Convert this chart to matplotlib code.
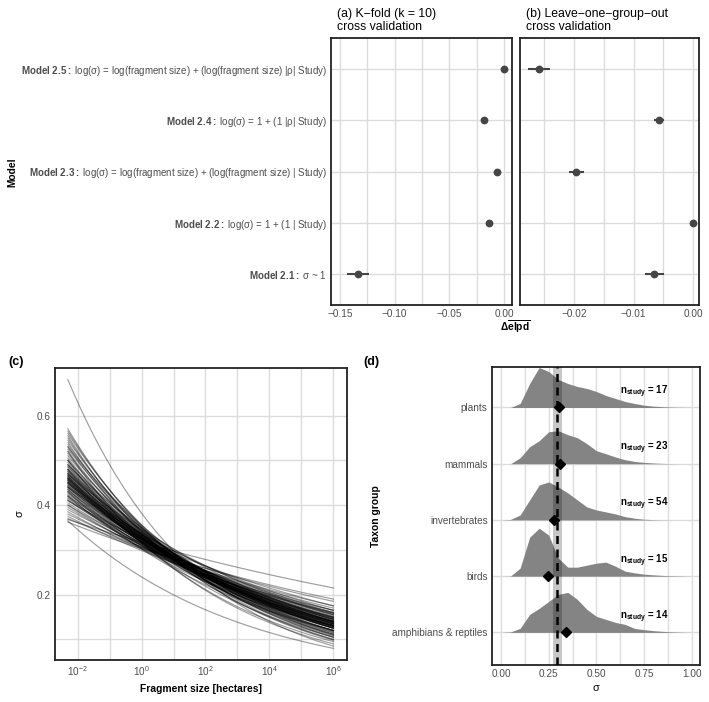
import numpy as np
import matplotlib
matplotlib.use('Agg')
import matplotlib.pyplot as plt
from matplotlib.ticker import FixedLocator, NullFormatter, FixedFormatter

plt.rcParams['font.family'] = ['Liberation Sans', 'DejaVu Sans']
plt.rcParams['mathtext.fontset'] = 'custom'
plt.rcParams['mathtext.rm'] = 'Liberation Sans'
plt.rcParams['mathtext.it'] = 'Liberation Sans:italic'
plt.rcParams['mathtext.bf'] = 'Liberation Sans:bold'

# ---------------- data ----------------
model_names = ['Model 2.1:', 'Model 2.2:', 'Model 2.3:', 'Model 2.4:', 'Model 2.5:']
model_formulas = ['σ ~ 1',
                  'log(σ) = 1 + (1 | Study)',
                  'log(σ) = log(fragment size) + (log(fragment size) | Study)',
                  'log(σ) = 1 + (1 |ρ| Study)',
                  'log(σ) = log(fragment size) + (log(fragment size) |ρ| Study)']
kfold_elpd = [-0.1335, -0.0137, -0.0060, -0.0180, 0.0000]
kfold_lo = [-0.1436, -0.0152, -0.0072, -0.0193, -0.0008]
kfold_hi = [-0.1235, -0.0122, -0.0048, -0.0167, 0.0008]
logo_elpd = [-0.0065, 0.0000, -0.0196, -0.0057, -0.0259]
logo_lo = [-0.0081, -0.0002, -0.0208, -0.0065, -0.0277]
logo_hi = [-0.0049, 0.0002, -0.0183, -0.0049, -0.0241]

# panel (c): posterior draws, sigma at smallest (0.005 ha) and largest (1e6 ha) fragment
frag_min, frag_max = 0.005, 1e6
sigma_small = [0.68, 0.57, 0.565, 0.56, 0.555, 0.55, 0.545, 0.54, 0.535, 0.53, 0.525, 0.52,
               0.515, 0.51, 0.505, 0.50, 0.50, 0.495, 0.49, 0.49, 0.485, 0.48, 0.48, 0.475,
               0.47, 0.47, 0.468, 0.465, 0.462, 0.46, 0.46, 0.458, 0.455, 0.452, 0.45, 0.45,
               0.448, 0.445, 0.442, 0.44, 0.44, 0.438, 0.435, 0.432, 0.43, 0.428, 0.425, 0.422,
               0.42, 0.418, 0.415, 0.412, 0.41, 0.405, 0.40, 0.40, 0.395, 0.39, 0.385, 0.38,
               0.375, 0.37, 0.368, 0.365, 0.362, 0.50, 0.52, 0.47, 0.44, 0.48, 0.43, 0.46,
               0.45, 0.53, 0.49, 0.42, 0.41, 0.455, 0.475, 0.465, 0.435,
               0.472, 0.458, 0.466, 0.444, 0.486, 0.452, 0.478, 0.462, 0.448, 0.456]
sigma_large = [0.085, 0.10, 0.105, 0.11, 0.098, 0.105, 0.112, 0.10, 0.115, 0.108, 0.12, 0.11,
               0.118, 0.125, 0.112, 0.12, 0.13, 0.115, 0.125, 0.135, 0.12, 0.13, 0.14, 0.125,
               0.135, 0.128, 0.14, 0.132, 0.145, 0.13, 0.138, 0.142, 0.135, 0.148, 0.14, 0.13,
               0.145, 0.138, 0.15, 0.142, 0.135, 0.148, 0.14, 0.155, 0.145, 0.138, 0.15, 0.145,
               0.158, 0.14, 0.152, 0.148, 0.16, 0.155, 0.15, 0.165, 0.158, 0.17, 0.16, 0.175,
               0.165, 0.185, 0.215, 0.08, 0.19, 0.095, 0.09, 0.155, 0.165, 0.105, 0.12, 0.12,
               0.16, 0.125, 0.145, 0.13, 0.175, 0.125, 0.14, 0.118, 0.128,
               0.132, 0.136, 0.128, 0.14, 0.126, 0.134, 0.13, 0.133, 0.137, 0.131]

# panel (d): posterior densities of sigma per taxon group
taxa = ['amphibians & reptiles', 'birds', 'invertebrates', 'mammals', 'plants']
n_study = [14, 15, 54, 23, 17]
sigma_grid = np.round(np.arange(0, 1.0001, 0.05), 3)
dens_amphibians = [0, 0.05, 0.4, 1.8, 2.4, 3.1, 3.8, 4.0, 3.3, 2.3, 1.6, 1.3, 1.0, 0.8, 0.4, 0.27, 0.17, 0.1, 0.05, 0.02, 0]
dens_birds = [0, 0.02, 0.8, 3.9, 4.8, 4.1, 1.8, 0.9, 0.9, 1.1, 1.3, 1.4, 1.0, 0.5, 0.33, 0.2, 0.13, 0.07, 0.04, 0.02, 0]
dens_invertebrates = [0, 0.05, 0.5, 2.0, 3.5, 3.8, 3.3, 2.7, 2.0, 1.3, 1.0, 0.8, 0.6, 0.33, 0.17, 0.07, 0.03, 0.01, 0, 0, 0]
dens_mammals = [0, 0, 0.6, 1.7, 2.3, 3.2, 3.3, 2.9, 2.6, 2.0, 1.3, 1.0, 0.67, 0.4, 0.23, 0.13, 0.07, 0.03, 0.01, 0, 0]
dens_plants = [0, 0.0, 0.4, 2.4, 4.0, 3.6, 2.8, 2.4, 2.1, 1.9, 1.6, 1.2, 0.9, 0.6, 0.4, 0.23, 0.13, 0.07, 0.03, 0.01, 0]
taxon_means = [0.34, 0.248, 0.275, 0.311, 0.304]
overall_mean = 0.294
overall_lo, overall_hi = 0.271, 0.318

# ---------------- layout ----------------
W, H = 709, 702
fig = plt.figure(figsize=(W / 100, H / 100), dpi=100)

def box(l, t, r, b):
    return [l / W, 1 - b / H, (r - l) / W, (b - t) / H]

GRID = '#dcdcdc'
TICKC = '#4d4d4d'
TFS = 7.2

def style(ax):
    for s in ax.spines.values():
        s.set_linewidth(1.3)
        s.set_color('#222222')
    ax.tick_params(which='both', length=0, labelsize=TFS, labelcolor=TICKC, pad=3)
    ax.grid(True, which='both', color=GRID, lw=1.0)
    ax.set_axisbelow(True)

ypos = np.arange(1, 6)

# (a)
axa = fig.add_axes(box(331, 38, 512, 305))
style(axa)
axa.set_xlim(-0.158, 0.0073)
axa.set_ylim(0.4, 5.6)
axa.xaxis.set_major_locator(FixedLocator([-0.15, -0.10, -0.05, 0.0]))
axa.xaxis.set_minor_locator(FixedLocator([-0.125, -0.075, -0.025]))
axa.xaxis.set_minor_formatter(NullFormatter())
axa.set_xticklabels(['\u22120.15', '\u22120.10', '\u22120.05', '0.00'])
axa.set_yticks(ypos)
labels = [r'$\mathbf{' + n.replace(' ', r'\ ') + '}$ ' + f for n, f in zip(model_names, model_formulas)]
axa.set_yticklabels(labels, fontsize=7.0, color=TICKC)
axa.errorbar(kfold_elpd, ypos, xerr=[np.array(kfold_elpd) - np.array(kfold_lo),
                                     np.array(kfold_hi) - np.array(kfold_elpd)],
             fmt='o', color='#454545', ms=4.6, elinewidth=1.5, capsize=0, zorder=3)

# (b)
axb = fig.add_axes(box(520, 38, 699, 305))
style(axb)
axb.set_xlim(-0.0291, 0.001)
axb.set_ylim(0.4, 5.6)
axb.xaxis.set_major_locator(FixedLocator([-0.02, -0.01, 0.0]))
axb.xaxis.set_minor_locator(FixedLocator([-0.025, -0.015, -0.005]))
axb.xaxis.set_minor_formatter(NullFormatter())
axb.set_xticklabels(['\u22120.02', '\u22120.01', '0.00'])
axb.set_yticks(ypos)
axb.set_yticklabels([])
axb.errorbar(logo_elpd, ypos, xerr=[np.array(logo_elpd) - np.array(logo_lo),
                                    np.array(logo_hi) - np.array(logo_elpd)],
             fmt='o', color='#454545', ms=4.6, elinewidth=1.5, capsize=0, zorder=3)

fig.text(337 / W, 1 - 20.5 / H, '(a) K\u2212fold (k = 10)\ncross validation', fontsize=8.8,
         ha='left', va='center', linespacing=1.08)
fig.text(526 / W, 1 - 20.5 / H, '(b) Leave\u2212one\u2212group\u2212out\ncross validation', fontsize=8.8,
         ha='left', va='center', linespacing=1.08)
fig.text(515 / W, 1 - 327 / H, r'$\mathbf{\Delta\overline{elpd}}$', fontsize=7.4, ha='center', va='center')
fig.text(12 / W, 1 - 172 / H, 'Model', fontsize=7.4, fontweight='bold', rotation=90,
         ha='center', va='center')

# (c)
axc = fig.add_axes(box(54.7, 367.7, 346.7, 660))
style(axc)
axc.set_xscale('log')
axc.set_xlim(10 ** -2.715, 10 ** 6.415)
axc.set_ylim(0.054, 0.707)
axc.xaxis.set_major_locator(FixedLocator([1e-2, 1e0, 1e2, 1e4, 1e6]))
axc.xaxis.set_minor_locator(FixedLocator([1e-1, 1e1, 1e3, 1e5]))
axc.xaxis.set_major_formatter(FixedFormatter([r'$10^{-2}$', r'$10^{0}$', r'$10^{2}$', r'$10^{4}$', r'$10^{6}$']))
axc.xaxis.set_minor_formatter(NullFormatter())
axc.yaxis.set_major_locator(FixedLocator([0.2, 0.4, 0.6]))
axc.yaxis.set_minor_locator(FixedLocator([0.1, 0.3, 0.5]))
axc.yaxis.set_minor_formatter(NullFormatter())
axc.set_yticklabels(['0.2', '0.4', '0.6'])
frag = np.logspace(np.log10(frag_min), np.log10(frag_max), 120)
tfrac = (np.log(frag) - np.log(frag_min)) / (np.log(frag_max) - np.log(frag_min))
for s0, s1 in zip(sigma_small, sigma_large):
    axc.plot(frag, np.exp(np.log(s0) + (np.log(s1) - np.log(s0)) * tfrac),
             color='black', alpha=0.38, lw=0.85, zorder=3)
axc.set_xlabel('Fragment size [hectares]', fontsize=7.4, fontweight='bold', labelpad=4)
axc.set_ylabel('σ', fontsize=7.8)
axc.yaxis.set_label_coords(-0.102, 0.5)
fig.text(8 / W, 1 - 362 / H, '(c)', fontsize=9, fontweight='bold', ha='left', va='center')

# (d)
axd = fig.add_axes(box(491.7, 367, 700, 665))
style(axd)
axd.set_xlim(-0.049, 1.043)
axd.set_ylim(0.42, 5.72)
axd.xaxis.set_major_locator(FixedLocator([0, 0.25, 0.5, 0.75, 1.0]))
axd.xaxis.set_minor_locator(FixedLocator([0.125, 0.375, 0.625, 0.875]))
axd.xaxis.set_minor_formatter(NullFormatter())
axd.set_xticklabels(['0.00', '0.25', '0.50', '0.75', '1.00'])
axd.set_yticks(ypos)
axd.set_yticklabels(taxa)
ridge_scale = 10 / 56.25
dens_all = [dens_amphibians, dens_birds, dens_invertebrates, dens_mammals, dens_plants]
for i in range(4, -1, -1):
    d = np.array(dens_all[i]) * ridge_scale
    axd.fill_between(sigma_grid, ypos[i], ypos[i] + d, color='#848484', lw=0, zorder=2 + (5 - i) * 0.01)
axd.axvspan(overall_lo, overall_hi, color='black', alpha=0.22, lw=0, zorder=3)
axd.axvline(overall_mean, color='black', lw=1.8, ls=(0, (3.2, 2.2)), zorder=4)
axd.plot(taxon_means, ypos, 'D', color='black', ms=5, zorder=5)
for i, n in enumerate(n_study):
    axd.text(0.625, ypos[i] + 0.28, r'$\mathbf{n_{study}}$' + f' = {n}', fontsize=7,
             fontweight='bold', ha='left', va='center', zorder=6)
axd.set_xlabel('σ', fontsize=7.8, labelpad=3)
axd.set_ylabel('Taxon group', fontsize=7.4, fontweight='bold')
axd.yaxis.set_label_coords(-0.531, 0.5)
fig.text(363 / W, 1 - 362 / H, '(d)', fontsize=9, fontweight='bold', ha='left', va='center')

fig.savefig('out.png', dpi=100)
